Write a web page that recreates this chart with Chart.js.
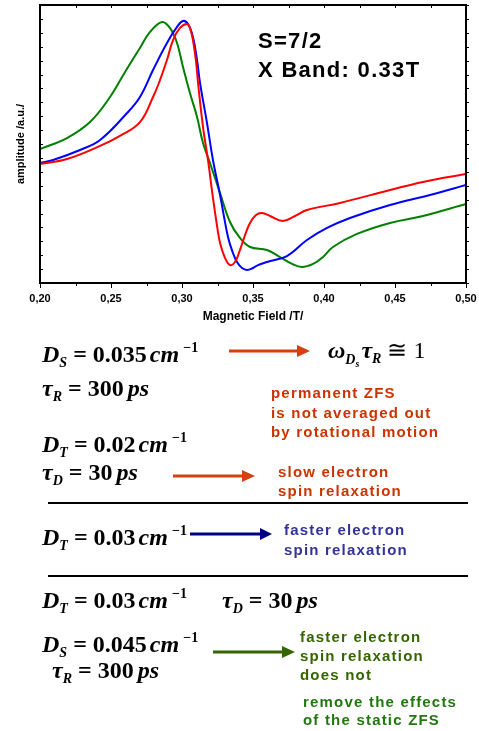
<!DOCTYPE html>
<html>
<head>
<meta charset="utf-8">
<script src="https://cdn.jsdelivr.net/npm/chart.js@4.4.1/dist/chart.umd.min.js"></script>
<style>
  html, body { margin: 0; padding: 0; background: #fff; width: 479px; height: 731px; overflow: hidden; }
  #wrap { position: absolute; left: 0; top: 0; width: 479px; height: 330px; }
  #notes { position: absolute; left: 0; top: 0; }
  .m { font: italic bold 24px "Liberation Serif", "DejaVu Serif", serif; fill: #000; }
  .up { font-style: normal; }
  .sub { font-size: 14px; }
  .sub2 { font-size: 10px; }
  .rm { font-weight: normal; font-style: normal; }
  .t { font: bold 15px "Liberation Sans", Arial, sans-serif; letter-spacing: 1.2px; }
  .big { font: bold 22px "Liberation Sans", Arial, sans-serif; letter-spacing: 1.3px; fill: #000; }
</style>
</head>
<body>
<div id="wrap"><canvas id="chart" width="479" height="330"></canvas></div>
<svg id="notes" width="479" height="731" xmlns="http://www.w3.org/2000/svg">
  <text class="big" x="258" y="48">S=7/2</text>
  <text class="big" x="258" y="77">X Band: 0.33T</text>

  <text class="m" x="42" y="362">D<tspan class="sub" dy="5">S</tspan><tspan class="up" dy="-5" dx="6">= 0.035</tspan><tspan dx="3">cm</tspan><tspan class="sub up" dy="-10" dx="4">−1</tspan></text>
  <line x1="229" y1="351" x2="298" y2="351" stroke="#d4400f" stroke-width="3"/>
  <polygon points="297,345 310,351 297,357" fill="#d4400f"/>
  <text class="m" x="328" y="358">ω<tspan class="sub" dy="6">D</tspan><tspan class="sub2" dy="3">s</tspan><tspan dy="-9" dx="2">τ</tspan><tspan class="sub" dy="5">R</tspan><tspan class="rm" dy="-5" dx="6">≅ 1</tspan></text>
  <text class="m" x="42" y="396">τ<tspan class="sub" dy="5">R</tspan><tspan class="up" dy="-5" dx="6">= 300</tspan><tspan dx="4">ps</tspan></text>

  <text class="t" fill="#cc3300" x="271" y="398">permanent ZFS</text>
  <text class="t" fill="#cc3300" x="271" y="418">is not averaged out</text>
  <text class="t" fill="#cc3300" x="271" y="437">by rotational motion</text>

  <text class="m" x="42" y="452">D<tspan class="sub" dy="5">T</tspan><tspan class="up" dy="-5" dx="6">= 0.02</tspan><tspan dx="3">cm</tspan><tspan class="sub up" dy="-10" dx="4">−1</tspan></text>
  <text class="m" x="42" y="480">τ<tspan class="sub" dy="5">D</tspan><tspan class="up" dy="-5" dx="6">= 30</tspan><tspan dx="4">ps</tspan></text>
  <line x1="173" y1="476" x2="243" y2="476" stroke="#d4400f" stroke-width="3"/>
  <polygon points="242,470 255,476 242,482" fill="#d4400f"/>
  <text class="t" fill="#cc3300" x="278" y="477">slow electron</text>
  <text class="t" fill="#cc3300" x="278" y="496">spin relaxation</text>

  <line x1="48" y1="503" x2="468" y2="503" stroke="#000" stroke-width="2"/>

  <text class="m" x="42" y="545">D<tspan class="sub" dy="5">T</tspan><tspan class="up" dy="-5" dx="6">= 0.03</tspan><tspan dx="3">cm</tspan><tspan class="sub up" dy="-10" dx="4">−1</tspan></text>
  <line x1="190" y1="534" x2="261" y2="534" stroke="#000080" stroke-width="3"/>
  <polygon points="260,528 272,534 260,540" fill="#000080"/>
  <text class="t" fill="#333399" x="284" y="535">faster electron</text>
  <text class="t" fill="#333399" x="284" y="555">spin relaxation</text>

  <line x1="48" y1="576" x2="468" y2="576" stroke="#000" stroke-width="2"/>

  <text class="m" x="42" y="608">D<tspan class="sub" dy="5">T</tspan><tspan class="up" dy="-5" dx="6">= 0.03</tspan><tspan dx="3">cm</tspan><tspan class="sub up" dy="-10" dx="4">−1</tspan></text>
  <text class="m" x="222" y="608">τ<tspan class="sub" dy="5">D</tspan><tspan class="up" dy="-5" dx="6">= 30</tspan><tspan dx="4">ps</tspan></text>

  <text class="m" x="42" y="652">D<tspan class="sub" dy="5">S</tspan><tspan class="up" dy="-5" dx="6">= 0.045</tspan><tspan dx="3">cm</tspan><tspan class="sub up" dy="-10" dx="4">−1</tspan></text>
  <text class="m" x="52" y="678">τ<tspan class="sub" dy="5">R</tspan><tspan class="up" dy="-5" dx="6">= 300</tspan><tspan dx="4">ps</tspan></text>
  <line x1="213" y1="652" x2="283" y2="652" stroke="#336600" stroke-width="3"/>
  <polygon points="282,646 295,652 282,658" fill="#336600"/>
  <text class="t" fill="#336600" x="300" y="642">faster electron</text>
  <text class="t" fill="#336600" x="300" y="661">spin relaxation</text>
  <text class="t" fill="#336600" x="300" y="680">does not</text>
  <text class="t" fill="#227711" x="303" y="707">remove the effects</text>
  <text class="t" fill="#227711" x="303" y="725">of the static ZFS</text>
</svg>
<script>
// magnetic field (T) and amplitude (a.u.)
const redField = [0.2000,0.2190,0.2423,0.2563,0.2704,0.2796,0.2845,0.2894,0.2937,0.2986,0.3035,0.3056,0.3077,0.3099,0.3113,0.3148,0.3183,0.3218,0.3246,0.3268,0.3303,0.3338,0.3373,0.3408,0.3444,0.3479,0.3521,0.3563,0.3620,0.3711,0.3796,0.3880,0.4113,0.4465,0.4697,0.5000];
const redAmp   = [8.56,8.92,9.86,10.58,11.58,13.38,14.60,16.04,17.48,18.35,18.63,18.35,17.48,15.90,14.39,11.22,8.85,6.12,4.17,2.88,1.80,1.29,1.51,2.37,3.45,4.32,4.89,5.04,4.82,4.46,4.82,5.25,5.76,6.69,7.27,7.84];

const blueField = [0.2000,0.2092,0.2282,0.2423,0.2613,0.2704,0.2796,0.2894,0.2965,0.3007,0.3042,0.3077,0.3106,0.3127,0.3176,0.3218,0.3268,0.3324,0.3359,0.3387,0.3423,0.3458,0.3500,0.3535,0.3599,0.3739,0.3880,0.4021,0.4183,0.4465,0.4746,0.5000];
const blueAmp   = [8.63,8.85,9.57,10.29,12.23,13.38,15.32,17.27,18.42,18.85,18.63,17.70,16.04,14.39,11.51,8.85,6.33,3.31,2.16,1.51,1.08,0.94,1.08,1.29,1.51,1.94,3.09,3.96,4.68,5.61,6.33,7.05];

const greenField = [0.2000,0.2190,0.2352,0.2493,0.2599,0.2704,0.2775,0.2859,0.2915,0.2965,0.3007,0.3056,0.3106,0.3148,0.3197,0.3268,0.3338,0.3408,0.3479,0.3599,0.3690,0.3775,0.3845,0.3923,0.3993,0.4063,0.4232,0.4465,0.4697,0.5000];
const greenAmp   = [9.64,10.43,11.58,13.38,15.18,16.91,18.06,18.78,18.35,17.27,15.54,13.67,11.94,10.07,8.63,6.47,4.39,3.24,2.59,2.37,1.87,1.37,1.15,1.37,1.87,2.59,3.53,4.32,4.82,5.68];

const fieldTicks = ['0,20','0,25','0,30','0,35','0,40','0,45','0,50'];

function pts(xs, ys) {
    return xs.map((x, i) => ({x: x, y: ys[i]}));
}

// frame + small tick marks like the original plot
const frame = {
    id: 'frame',
    afterDraw(chart) {
        const ctx = chart.ctx;
        const a = chart.chartArea;
        const xs = chart.scales.x, ys = chart.scales.y;
        ctx.save();
        ctx.strokeStyle = '#000';
        ctx.lineWidth = 1;
        xs.ticks.forEach(t => {
            const px = Math.round(xs.getPixelForValue(t.value)) + 0.5;
            const major = Math.round(t.value / 0.025) % 2 === 0;
            ctx.beginPath();
            ctx.moveTo(px, a.bottom); ctx.lineTo(px, a.bottom + (major ? 5 : 3));
            ctx.moveTo(px, a.top); ctx.lineTo(px, a.top + 3);
            ctx.stroke();
        });
        ys.ticks.forEach(t => {
            const py = Math.round(ys.getPixelForValue(t.value)) + 0.5;
            ctx.beginPath();
            ctx.moveTo(a.left, py); ctx.lineTo(a.left + 3, py);
            ctx.moveTo(a.right, py); ctx.lineTo(a.right + 3, py);
            ctx.stroke();
        });
        ctx.lineWidth = 2;
        ctx.strokeRect(a.left, a.top, a.right - a.left, a.bottom - a.top);
        ctx.restore();
    }
};

const line = {borderWidth: 2, pointRadius: 0, fill: false, tension: 0.4};

new Chart(document.getElementById('chart'), {
    type: 'line',
    data: {
        datasets: [
            Object.assign({label: 'red', data: pts(redField, redAmp), borderColor: '#ff0000'}, line),
            Object.assign({label: 'blue', data: pts(blueField, blueAmp), borderColor: '#0000ff'}, line),
            Object.assign({label: 'green', data: pts(greenField, greenAmp), borderColor: '#008000'}, line)
        ]
    },
    options: {
        responsive: false,
        animation: false,
        devicePixelRatio: 1,
        layout: {padding: {left: 0, right: 13, top: 5, bottom: 0}},
        plugins: {legend: {display: false}, tooltip: {enabled: false}},
        scales: {
            x: {
                type: 'linear', min: 0.2, max: 0.5,
                grid: {display: false, drawTicks: false},
                border: {display: false},
                ticks: {
                    stepSize: 0.025, autoSkip: false, maxRotation: 0, padding: 9,
                    color: '#000', font: {family: '"Liberation Sans", Arial', size: 11, weight: 'bold'},
                    callback: v => {
                        const k = Math.round(v / 0.025);
                        return k % 2 === 0 ? fieldTicks[(k - 8) / 2] : '';
                    }
                },
                title: {display: true, text: 'Magnetic Field /T/', color: '#000',
                        font: {family: '"Liberation Sans", Arial', size: 12, weight: 'bold'},
                        padding: {top: 0, bottom: 6}},
                afterFit: s => { s.height = 47; s.paddingLeft = 0; s.paddingRight = 0; }
            },
            y: {
                min: 0, max: 20,
                grid: {display: false, drawTicks: false},
                border: {display: false},
                ticks: {stepSize: 1, display: false},
                title: {display: true, text: 'amplitude /a.u./', color: '#000',
                        font: {family: '"Liberation Sans", Arial', size: 11, weight: 'bold'},
                        padding: {top: 14, bottom: 0}},
                afterFit: s => { s.width = 40; }
            }
        }
    },
    plugins: [frame]
});
</script>
</body>
</html>
